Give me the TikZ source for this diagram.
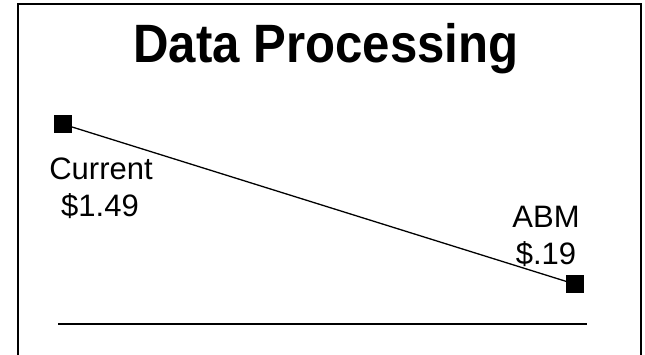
\documentclass[tikz,border=0pt]{standalone}
\usepackage{fontspec}
\setmainfont{Liberation Sans}
\begin{document}
\begin{tikzpicture}[x=1pt,y=-1pt,
  marker/.style={fill=black,draw=none,minimum size=18pt,inner sep=0pt,outer sep=0pt},
  lbl/.style={font=\fontsize{31}{31}\selectfont,anchor=base,inner sep=0pt},
  frame/.style={line width=2pt,black}]
\useasboundingbox (0,0) rectangle (645,355);
\draw[frame] (18,360) -- (18,4) -- (641,4) -- (641,360);
\node[font=\fontsize{54}{54}\selectfont\bfseries,anchor=base,inner sep=0pt,xscale=0.91] (title) at (326,63) {Data Processing};
\node[marker] (cur) at (62.5,124) {};
\node[marker] (abm) at (574.5,284) {};
\draw[line width=1.3pt] (cur.center) -- (abm.center);
\node[marker] at (cur) {};
\node[lbl] (curname) at (101,180) {Current};
\node[lbl] (curval) at (100,217) {\$1.49};
\node[lbl] (abmname) at (546,228) {ABM};
\node[lbl] (abmval) at (546,265) {\$.19};
\coordinate (bl) at (58,324);
\coordinate (br) at (587,324);
\draw[line width=1.5pt] (bl) -- (br);
\end{tikzpicture}
\end{document}
